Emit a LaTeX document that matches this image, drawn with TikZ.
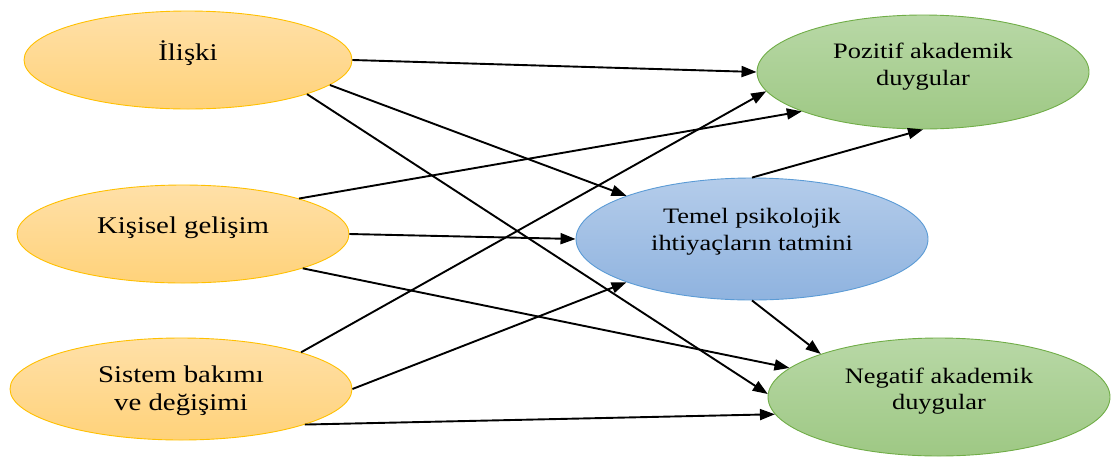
\documentclass[tikz,border=0pt]{standalone}
\usepackage{fontspec}
\usepackage{graphicx}
\setmainfont{Liberation Serif}
\usetikzlibrary{shapes.geometric,arrows.meta}
\definecolor{orTop}{HTML}{FFE0A8}
\definecolor{orBot}{HTML}{FFD27A}
\definecolor{orLine}{HTML}{FFC000}
\definecolor{grTop}{HTML}{B8D8A6}
\definecolor{grBot}{HTML}{9EC884}
\definecolor{grLine}{HTML}{70AD47}
\definecolor{blTop}{HTML}{B4CCEA}
\definecolor{blBot}{HTML}{8FB3DF}
\definecolor{blLine}{HTML}{5B9BD5}
\newcommand{\wide}[1]{\scalebox{1.2}[1]{#1}}
\tikzset{
  ell/.style={ellipse, inner sep=0pt, line width=0.9pt},
  orell/.style={ell, draw=orLine, top color=orTop, bottom color=orBot},
  grell/.style={ell, draw=grLine, top color=grTop, bottom color=grBot},
  blell/.style={ell, draw=blLine, top color=blTop, bottom color=blBot},
  lbl/.style={anchor=base, inner sep=0pt, text=black},
  lbll/.style={lbl, font=\fontsize{24}{28}\selectfont},
  lblr/.style={lbl, font=\fontsize{22}{27}\selectfont},
  conn/.style={line width=1.9pt, -{Triangle[length=15pt,width=11pt]}}
}
\begin{document}
\begin{tikzpicture}[x=1pt,y=-1pt]
\useasboundingbox (0,0) rectangle (1111,456);
% ellipses
\node[orell, minimum width=328pt, minimum height=98pt] (A) at (188,60) {};
\node[orell, minimum width=332pt, minimum height=98pt] (K) at (183,234) {};
\node[orell, minimum width=342pt, minimum height=102pt] (S) at (181,389) {};
\node[grell, minimum width=332pt, minimum height=114pt] (P) at (923,72) {};
\node[blell, minimum width=352pt, minimum height=122pt] (T) at (752,239) {};
\node[grell, minimum width=342pt, minimum height=118pt] (N) at (939,397) {};
% labels
\node[lbll] (A1) at (188,60) {\wide{İlişki}};
\node[lbll] (K1) at (183,233) {\wide{Kişisel gelişim}};
\node[lbll] (S1) at (181,382) {\wide{Sistem bakımı}};
\node[lbll] (S2) at (181,410) {\wide{ve değişimi}};
\node[lblr] (P1) at (923,58) {\wide{Pozitif akademik}};
\node[lblr] (P2) at (923,85) {\wide{duygular}};
\node[lblr] (T1) at (752,223) {\wide{Temel psikolojik}};
\node[lblr] (T2) at (752,250) {\wide{ihtiyaçların tatmini}};
\node[lblr] (N1) at (939,383) {\wide{Negatif akademik}};
\node[lblr] (N2) at (939,409) {\wide{duygular}};
% connectors
\draw[conn] (A.0) -- (P.180);
\draw[conn] (A.-10.2) -- (T.161.7);
\draw[conn] (A.-16.7) -- (N.179);
\draw[conn] (K.17.1) -- (P.198.7);
\draw[conn] (K.0) -- (T.180);
\draw[conn] (K.-16.2) -- (N.169.9);
\draw[conn] (S.17.7) -- (P.187.9);
\draw[conn] (S.0) -- (T.199.1);
\draw[conn] (S.-16.4) -- (N.186.8);
\draw[conn] (T.90) -- (P.270);
\draw[conn] (T.270) -- (N.160);
\end{tikzpicture}
\end{document}
